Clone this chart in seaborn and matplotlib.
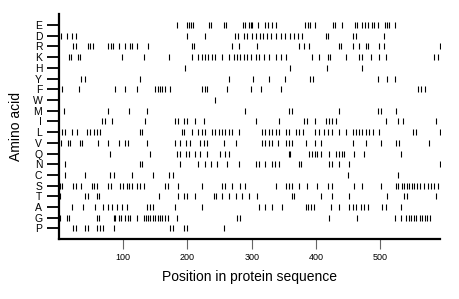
import pandas as pd
import matplotlib
matplotlib.use("Agg")
import matplotlib.pyplot as plt
import seaborn as sns

# amino acids, top to bottom as on the chart
amino_acids = ["E", "D", "R", "K", "H", "Y", "F", "W", "M", "I",
               "L", "V", "Q", "N", "C", "S", "T", "A", "G", "P"]

# positions (approximate)
pos_E = [184, 200, 203, 206, 208, 233, 236, 257, 260, 286, 290, 295, 298, 300, 310, 321, 325,
         331, 338, 383, 387, 390, 399, 427, 430, 441, 460, 463, 471, 476, 481, 487, 490, 497,
         507, 511, 514, 523]
pos_D = [4, 12, 20, 26, 200, 227, 274, 279, 288, 293, 300, 306, 312, 318, 324, 330, 338, 345,
         352, 360, 366, 372, 378, 416, 419, 458, 462, 505]
pos_R = [22, 26, 46, 49, 53, 77, 81, 84, 93, 103, 111, 114, 121, 139, 207, 210, 269, 280, 308,
         374, 381, 389, 436, 439, 457, 467, 477, 481, 498, 506, 592]
pos_K = [15, 19, 29, 33, 98, 133, 171, 207, 216, 222, 227, 232, 238, 243, 254, 264, 272, 277,
         282, 288, 293, 298, 306, 311, 319, 327, 337, 345, 353, 394, 405, 418, 421, 446, 467,
         471, 485, 498, 509, 584, 589]
pos_H = [196, 359, 417, 471]
pos_Y = [34, 40, 126, 265, 302, 326, 352, 390, 395, 497, 511, 522]
pos_F = [5, 31, 88, 103, 121, 150, 154, 158, 161, 165, 173, 223, 227, 230, 262, 298, 314, 345,
         558, 563, 570]
pos_W = [243]
pos_M = [8, 76, 109, 137, 289, 358, 363, 435, 496, 501, 524]
pos_I = [67, 72, 82, 134, 181, 185, 194, 199, 212, 225, 306, 342, 381, 386, 399, 415, 420, 425,
         431, 509, 527, 535, 587]
pos_L = [5, 10, 20, 28, 43, 48, 54, 59, 64, 126, 129, 191, 194, 207, 217, 223, 228, 238, 243,
         249, 254, 259, 264, 269, 280, 316, 321, 327, 332, 337, 342, 353, 358, 368, 373, 379,
         399, 405, 412, 419, 425, 436, 446, 457, 462, 467, 472, 477, 483, 488, 498, 550, 555, 592]
pos_V = [3, 14, 17, 33, 36, 61, 77, 93, 103, 108, 137, 181, 189, 197, 204, 220, 225, 230, 256,
         275, 316, 321, 327, 332, 340, 353, 358, 363, 384, 399, 407, 457, 477, 501, 524, 529, 576]
pos_Q = [80, 142, 184, 189, 197, 202, 212, 220, 230, 251, 259, 264, 358, 360, 389, 394, 399,
         402, 407, 420, 431, 436, 440, 444, 459, 475, 532]
pos_N = [9, 126, 130, 189, 217, 228, 236, 246, 262, 280, 306, 311, 321, 332, 336, 342, 373, 377,
         420, 424, 436, 451, 592]
pos_C = [9, 41, 80, 85, 113, 147, 171, 178, 449, 527]
pos_S = [2, 5, 22, 26, 35, 51, 55, 59, 77, 81, 95, 100, 106, 109, 113, 121, 126, 132, 165, 170,
         186, 223, 254, 258, 269, 282, 290, 337, 353, 358, 363, 373, 386, 402, 418, 425, 459,
         472, 501, 524, 528, 533, 537, 541, 545, 549, 553, 557, 562, 568, 574, 579, 584, 589]
pos_T = [2, 41, 45, 59, 63, 155, 186, 194, 199, 212, 241, 244, 254, 264, 275, 285, 295, 308,
         363, 366, 407, 425, 451, 511, 537, 542, 587]
pos_A = [21, 38, 56, 69, 77, 82, 90, 98, 106, 137, 142, 147, 181, 223, 311, 321, 332, 347, 384,
         388, 392, 397, 423, 436, 451, 457, 462, 470, 475, 480, 503, 509, 532]
pos_G = [2, 12, 16, 59, 62, 85, 88, 93, 97, 103, 107, 111, 121, 132, 135, 138, 142, 146, 150,
         154, 158, 161, 165, 170, 184, 277, 281, 420, 464, 522, 532, 540, 544, 548, 552, 556,
         561, 565, 569, 573, 577]
pos_P = [22, 26, 41, 45, 59, 64, 69, 85, 173, 177, 194, 199, 256]

positions = [pos_E, pos_D, pos_R, pos_K, pos_H, pos_Y, pos_F, pos_W, pos_M, pos_I,
             pos_L, pos_V, pos_Q, pos_N, pos_C, pos_S, pos_T, pos_A, pos_G, pos_P]

rows = []
n = len(amino_acids)
for i, (aa, plist) in enumerate(zip(amino_acids, positions)):
    for p in plist:
        rows.append({"aa": aa, "row": n - 1 - i, "pos": p})
df = pd.DataFrame(rows)

sns.set_style("white")
plt.rcParams["font.family"] = ["Liberation Sans", "DejaVu Sans"]
plt.rcParams["text.color"] = "black"
plt.rcParams["axes.labelcolor"] = "black"
plt.rcParams["xtick.color"] = "black"
plt.rcParams["ytick.color"] = "black"

fig = plt.figure(figsize=(4.6, 2.99), dpi=100)
ax = fig.add_axes([0.128, 0.2, 0.829, 0.752])

sns.scatterplot(data=df, x="pos", y="row", marker="|", color="black",
                s=18, linewidth=0.8, legend=False, ax=ax)

ax.set_xlim(0, 593)
ax.set_ylim(-1, n)
ax.set_yticks(range(n))
ax.set_yticklabels(amino_acids[::-1], fontsize=7.5)
ax.set_xticks([100, 200, 300, 400, 500])
ax.set_xticklabels(["100", "200", "300", "400", "500"], fontsize=6.5)

ax.tick_params(axis="y", direction="out", length=9, width=1.3, color="black",
               labelcolor="black", pad=3, left=True)
ax.tick_params(axis="x", direction="out", length=7, width=0.8, color="#666666",
               labelcolor="black", pad=3, bottom=True)

for side in ["top", "right"]:
    ax.spines[side].set_visible(False)
for side in ["left", "bottom"]:
    ax.spines[side].set_color("black")
    ax.spines[side].set_linewidth(1.6)

ax.set_xlabel("Position in protein sequence", fontsize=10, labelpad=6, color="black")
ax.set_ylabel("Amino acid", fontsize=10, labelpad=7, color="black")

fig.savefig("out.png", dpi=100)
